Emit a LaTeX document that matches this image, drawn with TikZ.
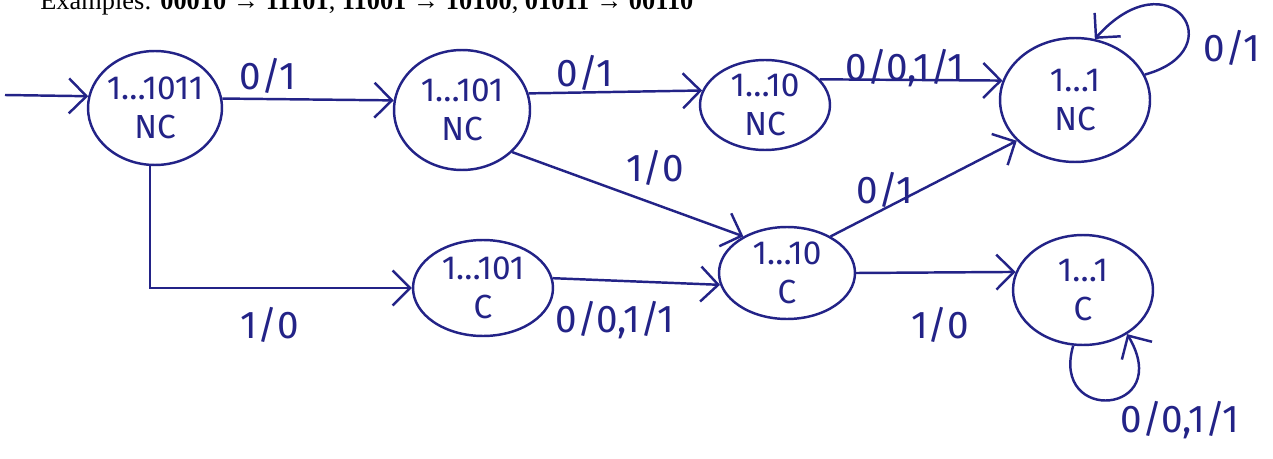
\documentclass[tikz,border=0pt]{standalone}
\usepackage{fontspec}
\setmainfont{Fira Sans}
\newfontfamily\seriffont{Liberation Serif}
\usetikzlibrary{arrows.meta,shapes.geometric}
\definecolor{ink}{RGB}{35,35,135}
\begin{document}
\begin{tikzpicture}[x=0.02cm,y=-0.02cm,
  st/.style={draw=ink, ellipse, line width=1.4pt, inner sep=0pt},
  sttext/.style={text=ink, align=center, font=\fontsize{19}{22}\selectfont},
  arr/.style={draw=ink, line width=1.4pt, -{Straight Barb[length=3.5mm,width=7mm]}},
  lab/.style={text=ink, font=\fontsize{22}{24}\selectfont}]
\useasboundingbox (0,0) rectangle (1273,459);
\clip (0,0) rectangle (1273,459);
\node[anchor=base west, inner sep=0pt, font=\seriffont\fontsize{15}{17}\selectfont] (title) at (40,10)
  {Examples: \textbf{00010} → \textbf{11101}, \textbf{11001} → \textbf{10100}, \textbf{01011} → \textbf{00110}};
% states
\node[st, minimum width=2.68cm, minimum height=2.28cm] (A) at (155,108) {};
\node[sttext] (At) at (A) {1…1011\\NC};
\node[st, minimum width=2.72cm, minimum height=2.4cm] (B) at (462,110) {};
\node[sttext] (Bt) at (B) {1…101\\NC};
\node[st, minimum width=2.6cm, minimum height=1.8cm] (C) at (765,105) {};
\node[sttext] (Ct) at (C) {1…10\\NC};
\node[st, minimum width=3.0cm, minimum height=2.48cm] (D) at (1075,100) {};
\node[sttext] (Dt) at (D) {1…1\\NC};
\node[st, minimum width=2.8cm, minimum height=1.92cm] (E) at (483,288) {};
\node[sttext] (Et) at (E) {1…101\\C};
\node[st, minimum width=2.72cm, minimum height=1.84cm] (F) at (787,273) {};
\node[sttext] (Ft) at (F) {1…10\\C};
\node[st, minimum width=2.8cm, minimum height=2.2cm] (G) at (1083,290) {};
\node[sttext] (Gt) at (G) {1…1\\C};
% start
\coordinate (s) at (5,95);
\draw[arr] (s) -- (A.170);
% edges
\draw[arr] (A.8) -- (B.172);
\node[lab] (l1) at (268,76) {0/1};
\draw[arr] (B.14) -- (C.167);
\node[lab] (l2) at (585,73) {0/1};
\draw[arr] (C.25) -- (D.165);
\node[lab] (l3) at (905,68) {0/0,1/1};
\draw[arr] (D.20) .. controls (1235,50) and (1170,-45) .. (D.72);
\node[lab] (l4) at (1232,48) {0/1};
\draw[arr] (B.-40) -- (F.140);
\node[lab] (l5) at (655,168) {1/0};
\draw[arr] (F.40) -- (D.215);
\node[lab] (l6) at (885,190) {0/1};
\draw[arr] (A.265) |- (E.180);
\node[lab] (l7) at (270,325) {1/0};
\draw[arr] (E.8) -- (F.190);
\node[lab] (l8) at (615,320) {0/0,1/1};
\draw[arr] (F.0) -- (G.165);
\node[lab] (l9) at (940,325) {1/0};
\draw[arr] (G.260) .. controls (1050,425) and (1175,415) .. (G.-45);
\node[lab] (l10) at (1180,420) {0/0,1/1};
\end{tikzpicture}
\end{document}
